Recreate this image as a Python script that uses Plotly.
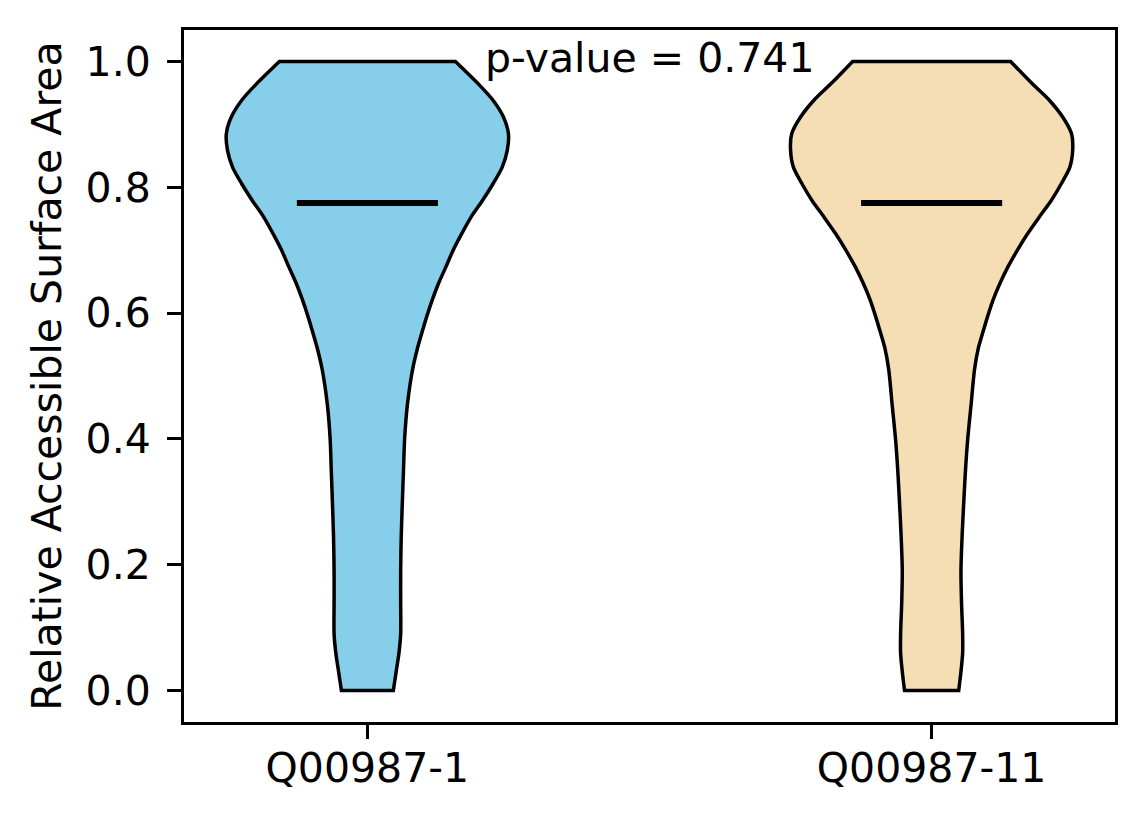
import plotly.graph_objects as go

# ---------- Data ----------
groups = ["Q00987-1", "Q00987-11"]
positions = [1, 2]
colors = ["#87CEEB", "#F5DEB3"]
medians = [0.775, 0.775]
p_value = 0.741

# RSA levels along the violin and the KDE half-width at each level (x units)
rsa_levels = [0.000, 0.030, 0.060, 0.090, 0.140, 0.190, 0.245, 0.300, 0.350, 0.400,
              0.455, 0.510, 0.545, 0.573, 0.594, 0.621, 0.647, 0.673, 0.700, 0.726,
              0.753, 0.779, 0.806, 0.832, 0.859, 0.885, 0.912, 0.938, 0.964, 1.000]
q1_halfwidth = [0.046, 0.051, 0.056, 0.059, 0.059, 0.059, 0.060, 0.062, 0.064, 0.066,
                0.071, 0.080, 0.089, 0.098, 0.105, 0.115, 0.126, 0.139, 0.152, 0.167,
                0.184, 0.204, 0.223, 0.239, 0.248, 0.250, 0.241, 0.223, 0.197, 0.156]
q11_halfwidth = [0.048, 0.052, 0.055, 0.055, 0.053, 0.052, 0.054, 0.057, 0.060, 0.064,
                 0.070, 0.076, 0.083, 0.092, 0.099, 0.109, 0.121, 0.135, 0.152, 0.170,
                 0.191, 0.212, 0.230, 0.245, 0.250, 0.248, 0.232, 0.209, 0.179, 0.140]
halfwidths = [q1_halfwidth, q11_halfwidth]

FONT = "DejaVu Sans"
FS = 41

fig = go.Figure()

for pos, hw, col, med in zip(positions, halfwidths, colors, medians):
    left = [(pos - w, y) for w, y in zip(hw, rsa_levels)]
    right = [(pos + w, y) for w, y in zip(hw, rsa_levels)][::-1]
    # repeat the end points so the spline keeps sharp corners at the flat ends
    path = [left[0]] + left + [left[-1], right[0]] + right + [right[-1], left[0], left[0]]
    xs = [p[0] for p in path]
    ys = [p[1] for p in path]
    fig.add_trace(go.Scatter(
        x=xs, y=ys, mode="lines", fill="toself", fillcolor=col,
        line=dict(color="black", width=3.5, shape="spline", smoothing=0.8),
        hoverinfo="skip", showlegend=False,
    ))
    # median bar
    fig.add_trace(go.Scatter(
        x=[pos - 0.125, pos + 0.125], y=[med, med], mode="lines",
        line=dict(color="black", width=6), showlegend=False,
    ))

fig.add_annotation(
    x=1.5, y=1.005, xref="x", yref="y",
    text=f"p-value = {p_value}", showarrow=False,
    xanchor="center", yanchor="middle",
    font=dict(family=FONT, size=FS, color="black"),
)

axis_common = dict(
    showline=True, linecolor="black", linewidth=3, mirror=True,
    ticks="outside", ticklen=14, tickwidth=3, tickcolor="black",
    showgrid=False, zeroline=False,
    tickfont=dict(family=FONT, size=FS, color="black"),
)

fig.update_xaxes(
    range=[0.675, 2.325], tickvals=positions, ticktext=groups,
    ticklabelstandoff=-6, **axis_common,
)
fig.update_yaxes(
    range=[-0.05, 1.05], tickvals=[0, 0.2, 0.4, 0.6, 0.8, 1.0], tickformat=".1f",
    ticklabelstandoff=8,
    title=dict(text="Relative Accessible Surface Area",
               font=dict(family=FONT, size=FS, color="black"), standoff=12),
    **axis_common,
)

# page body adds an 8px margin, so the figure is 8px smaller than the window
fig.update_layout(
    width=1136, height=816,
    margin=dict(l=176, r=29, t=22, b=102),
    paper_bgcolor="white", plot_bgcolor="white",
    font=dict(family=FONT, size=FS, color="black"),
)

fig.write_html("out.html")
